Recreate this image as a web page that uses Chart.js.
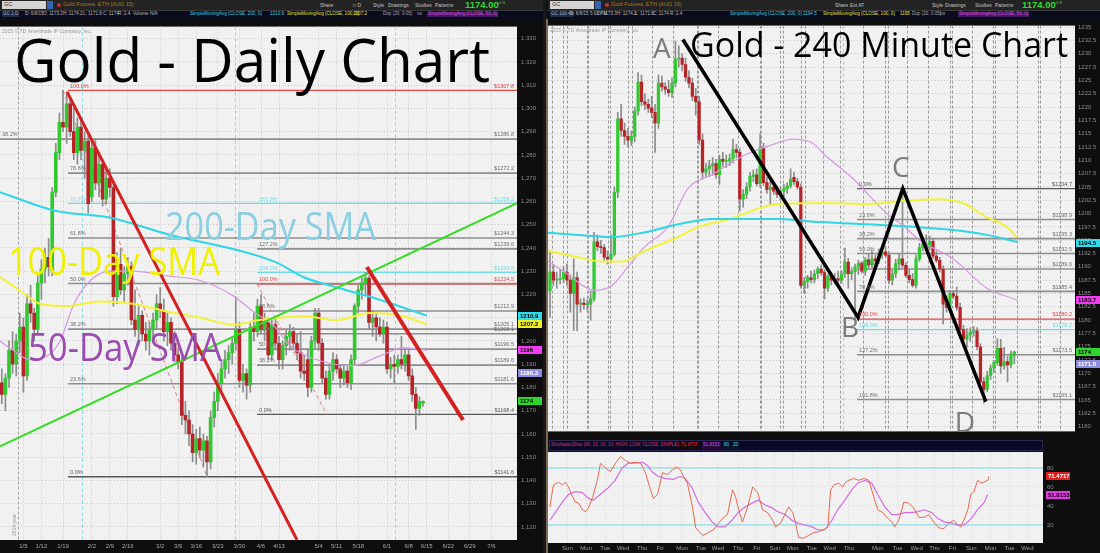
<!DOCTYPE html>
<html>
<head>
<meta charset="utf-8">
<title>Gold - Daily and 240 Minute Charts</title>
<script src="https://cdn.jsdelivr.net/npm/chart.js@4.4.1/dist/chart.umd.min.js"></script>
<style>
  html, body { margin: 0; padding: 0; background: #121212; }
  body { position: relative; width: 1100px; height: 553px; overflow: hidden; font-family: "Liberation Sans", Arial, sans-serif; }
  canvas { position: absolute; }
  .t { position: absolute; white-space: nowrap; line-height: 1; }
</style>
</head>
<body>
<canvas id="daily" width="543" height="534" style="left:0;top:19px"></canvas>
<canvas id="h4" width="552" height="419" style="left:548px;top:19px"></canvas>
<canvas id="stoch" width="552" height="115" style="left:548px;top:438px"></canvas>
<script>
'use strict';

/* ---- Daily chart data (bar index 0 = late Dec 2014, last = 6/8/15) ---- */
var dOpen = [1182,1177,1184,1196,1190,1200,1206,1185,1216,1212,1205,1225,1231,1236,1230,1264,1281,1294,1292,1302,
  1290,1281,1292,1282,1286,1262,1283,1268,1276,1261,1270,1266,1219,1233,1222,1229,1232,1209,1205,1211,
  1203,1200,1205,1209,1216,1213,1204,1208,1199,1194,1191,1168,1166,1160,1152,1158,1153,1157,1148,1167,
  1174,1182,1188,1192,1195,1199,1205,1183,1186,1181,1206,1204,1215,1205,1208,1194,1207,1199,1192,1198,
  1202,1204,1199,1195,1187,1192,1180,1200,1212,1199,1184,1177,1187,1192,1188,1184,1187,1182,1192,1215,
  1222,1225,1227,1208,1210,1206,1203,1206,1188,1190,1189,1192,1190,1194,1185,1177,1171,1173.2];
var dHigh = [1188,1186,1200,1204,1203,1212,1210,1220,1224,1214,1228,1235,1240,1244,1266,1285,1298,1307.8,1306,1305,
  1300,1296,1296,1290,1290,1286,1287,1280,1278,1274,1274,1268,1238,1240,1232,1236,1234,1222,1215,1213,
  1208,1208,1212,1220,1223,1218,1212,1210,1204,1197,1193,1174,1170,1164,1162,1163,1160,1159,1170,1178,
  1186,1192,1196,1198,1202,1219,1208,1190,1188,1208,1212,1218,1220,1212,1210,1209,1210,1202,1200,1205,
  1207,1206,1203,1204,1194,1196,1202,1214,1214,1201,1187,1190,1195,1194,1190,1190,1189,1194,1216,1224,
  1228,1229.5,1228,1213,1212,1210,1209,1208,1193,1194,1194,1202,1196,1196,1188,1180,1176,1174.2];
var dLow = [1173,1170,1180,1186,1185,1195,1178,1183,1208,1200,1203,1218,1225,1228,1228,1262,1278,1290,1285,1288,
  1278,1276,1278,1270,1255,1260,1265,1262,1258,1259,1262,1215,1216,1220,1217,1224,1207,1202,1198,1200,
  1196,1194,1200,1205,1210,1200,1198,1196,1191,1188,1164,1160,1155,1148,1147,1150,1146,1141.6,1145,1163,
  1170,1178,1184,1186,1190,1196,1180,1178,1175,1178,1200,1202,1203,1200,1192,1192,1196,1188,1188,1194,
  1196,1196,1192,1184,1183,1176,1178,1197,1196,1182,1175,1175,1183,1186,1180,1181,1180,1179,1190,1212,
  1218,1220,1205,1202,1200,1202,1199,1186,1184,1182,1186,1188,1187,1183,1174,1162,1168,1171.8];
var dClose = [1177,1184,1196,1190,1200,1206,1185,1216,1212,1205,1225,1231,1236,1232,1264,1281,1294,1292,1302,1290,
  1281,1292,1282,1286,1259,1283,1268,1276,1261,1270,1266,1219,1233,1222,1229,1232,1209,1205,1211,1203,
  1200,1205,1209,1216,1213,1204,1208,1199,1194,1191,1168,1166,1160,1152,1158,1153,1157,1148,1167,1174,
  1182,1188,1192,1195,1199,1205,1183,1186,1181,1206,1204,1215,1205,1208,1194,1207,1199,1192,1198,1202,
  1204,1199,1195,1187,1186,1180,1200,1212,1199,1184,1177,1187,1192,1188,1184,1187,1182,1192,1215,1222,
  1225,1227,1208,1210,1206,1203,1206,1188,1190,1189,1192,1190,1194,1185,1177,1171,1174,1174];

var dTickIdx = [6,11,17,25,30,35,44,49,54,60,66,72,77,88,93,99,107,113,118,124,130,136];
var dTickLbl = ['1/5','1/12','1/19','2/2','2/9','2/16','3/2','3/9','3/16','3/23','3/30','4/6','4/13','5/4','5/11','5/18','6/1','6/8','6/15','6/22','6/29','7/6'];
var dMonthMarks = [22.3, 64.8, 109.2];
var dYearMark = [4.5];

var d200X = [-0.5, 14.8, 30.1, 45.9, 75.9, 83.7, 93.1, 102.3, 118.1];
var d200Y = [1264, 1256, 1253, 1246, 1234, 1227.5, 1223, 1219, 1210.9];
var d100X = [-0.5, 5.1, 10.6, 18.1, 27.3, 36.4, 45.9, 55.1, 64.2, 71.7, 83.7, 93.1, 102.3, 111.4, 118.1];
var d100Y = [1227.5, 1221.6, 1216, 1215, 1217, 1216, 1212.7, 1210, 1207, 1209, 1210.6, 1209, 1212, 1210.6, 1207.2];
var d50X = [-0.5, 3.1, 7.8, 12.6, 16.2, 19.8, 23.7, 30.1, 36.4, 45.9, 55.1, 64.2, 69.8, 75.9, 80, 88.4, 97.6, 105, 111.4, 118.1];
var d50Y = [1200, 1196, 1192, 1193.6, 1200, 1215, 1224.6, 1230, 1230, 1228, 1226, 1219.5, 1212.7, 1206, 1198, 1191.5, 1189.4, 1193.6, 1197, 1196];

var dGreenX = [-0.5, 143.1], dGreenY = [1154.7, 1259.3];
var dRed1X = [18.1, 82], dRed1Y = [1307.2, 1114.4];
var dRed2X = [101.4, 128.1], dRed2Y = [1231.8, 1166];
var dLink1X = [17, 57], dLink1Y = [1307.8, 1141.6];
var dLink2X = [70.9, 90.3], dLink2Y = [1224.5, 1168.4];

var dFibPrice = [1307.8, 1286.8, 1272.2, 1259.2, 1259.2, 1244.3, 1239.6, 1229.5, 1224.7, 1224.5, 1212.9, 1205.1, 1203.1, 1196.5, 1189.6, 1181.6, 1168.4, 1141.6];
var dFibFrom = [18.4, -0.5, 18.4, 18.4, 70.9, 18.4, 70.9, 70.9, 18.4, 70.9, 70.9, 18.4, 70.9, 70.9, 70.9, 18.4, 70.9, 18.4];
var dFibPct = ['100.0%', '38.2%', '78.6%', '70.7%', '161.8%', '61.8%', '127.2%', '108.0%', '50.0%', '100.0%', '78.6%', '38.2%', '61.8%', '50.0%', '38.2%', '23.6%', '0.0%', '0.0%'];
var dFibTag = ['$1307.8', '$1286.8', '$1272.2', '', '$1259.2', '$1244.3', '$1239.6', '$1229.5', '', '$1224.5', '$1212.9', '$1205.1', '$1203.1', '$1196.5', '$1189.6', '$1181.6', '$1168.4', '$1141.6'];
var dFibKind = ['top', 'level', 'level', 'ext', 'ext', 'level', 'level', 'ext', 'level', 'top', 'level', 'level', 'level', 'level', 'level', 'level', 'base', 'base'];

var dTagVal = [1210.9, 1207.2, 1196, 1186.3, 1174];
var dTagTxt = ['1210.9', '1207.2', '1196', '1186.3', '1174'];

/* ---- 240 minute chart data ---- */
var hOpen = [1185.5,1189,1187.5,1187.6,1187.8,1189,1187.5,1185,1188,1183,1183.2,1182.9,1183,1184,1194.7,1193.8,1193.6,1191.8,1191.5,1192.4,
  1204,1217.8,1215.6,1214.5,1213.8,1214.5,1219.3,1224.7,1221,1220.5,1219.8,1219,1217,1224.5,1223.8,1223.3,1222.7,1224.5,1229,1229.2,
  1228,1225.6,1224.5,1222,1221,1213.8,1207.8,1208.4,1209,1209.4,1207.3,1210.2,1209.8,1209.9,1210.3,1212,1211.5,1202.7,1203.6,1205,
  1207,1207.3,1205.6,1212.4,1205.8,1204.5,1205,1204.2,1203.6,1204.2,1204.7,1205.2,1206.8,1206,1205,1186.5,1187.2,1188,1187.6,1188.7,
  1189.6,1188.9,1186,1188.2,1187.5,1187.8,1187.5,1188.7,1190.9,1188.7,1189.1,1190,1190.6,1189.2,1191.3,1190.4,1191.5,1191.1,1192.4,1192.8,
  1192.2,1187.5,1188.7,1190.6,1191.5,1190.3,1188.4,1187.6,1186.5,1191.5,1193.6,1194.3,1193.7,1194.8,1192,1191.2,1189.6,1183,1182.4,1185,
  1184.5,1182.4,1178.2,1176.4,1177.2,1177.8,1178,1175,1168.4,1167,1169.6,1171,1172,1174.7,1171.4,1172.2,1171.6,1173.3];
var hHigh = [1193,1190.5,1189,1189.5,1190,1190.5,1188.5,1191.5,1189,1184,1184.2,1183.8,1185.5,1196.5,1196,1195,1194.2,1193,1196,1205,
  1219,1220.5,1217,1216,1215.5,1220,1226.5,1226,1222.5,1221.5,1222,1220.5,1226,1225.8,1224.6,1225,1225.5,1232.4,1231.5,1230,
  1229.2,1226.8,1225.4,1223.5,1222,1215,1209.5,1210,1210.5,1210.2,1211,1211.5,1211,1211.2,1214,1213,1212.2,1204.5,1205.8,1207.8,
  1208.2,1208.4,1215,1213.2,1206.8,1206,1205.8,1205.2,1205,1205.5,1205.8,1208.4,1207.8,1206.6,1205.6,1188,1188.4,1189.2,1189.4,1190,
  1190.4,1189.5,1188.6,1189,1188.8,1189.2,1189.3,1193.5,1191.6,1189.8,1190.5,1191.2,1191,1191.8,1192.5,1193,1192.2,1193.4,1193.6,1193.8,
  1192.8,1189.4,1191.4,1192.4,1204.7,1190.8,1189.6,1188.8,1192.2,1194.4,1194.8,1196,1195.8,1195.4,1193,1191.8,1190.2,1184.6,1185.6,1185.6,
  1186.2,1183.2,1179,1178.4,1178.6,1178.8,1178.6,1175.6,1169.2,1170.4,1171.6,1172.4,1176.5,1176.4,1174.9,1173.2,1174.2,1174.2];
var hLow = [1180.5,1186.5,1186,1186.8,1187,1186.5,1181.5,1178,1178,1181.5,1182,1181.8,1180,1183.5,1193,1192.5,1191,1190.5,1190.8,1192,
  1203,1214.5,1213,1212.5,1212.8,1213.5,1218.5,1220.2,1219.5,1219,1218,1211.5,1216,1223,1222.4,1222,1221.8,1223.8,1227.5,1226.8,
  1224.8,1223.6,1221.2,1218.5,1213,1206.5,1206.8,1207,1207.2,1206.6,1205.5,1208.8,1208.6,1209,1209.5,1210.5,1200.5,1201.2,1202.8,1204.2,
  1206,1205.2,1205,1205.3,1203.8,1201.5,1203.6,1203,1202.5,1203.2,1203.8,1204.8,1205.5,1204.6,1186,1185,1186,1187,1187,1187.8,
  1188.4,1184,1185.4,1186.6,1186.8,1186.4,1186.9,1188,1186,1187.6,1180.2,1188.6,1188.8,1188.4,1189.5,1189.8,1190,1190.6,1191.6,1191.8,
  1186.8,1186.6,1188,1189.4,1189.8,1188,1187,1186.2,1186,1191,1193,1193,1193.2,1191.6,1190.8,1189,1179.3,1181.5,1182,1184,
  1181.8,1177.6,1175.5,1174.8,1176,1177,1174.4,1168,1164.4,1166.5,1168.8,1170.2,1171.5,1170,1170.8,1168.4,1171,1171.8];
var hClose = [1189,1187.5,1187.6,1187.8,1189,1187.5,1185,1188,1183,1183.2,1182.9,1183,1184,1194.7,1193.8,1193.6,1191.8,1191.5,1192.4,1204,
  1217.8,1215.6,1214.5,1213.8,1214.5,1219.3,1224.7,1221,1220.5,1219.8,1219,1217,1224.5,1223.8,1223.3,1222.7,1224.5,1229,1229.2,1228,
  1225.6,1224.5,1222,1221,1213.8,1207.8,1208.4,1209,1209.4,1207.3,1210.2,1209.8,1209.9,1210.3,1212,1211.5,1202.7,1203.6,1205,1207,
  1207.3,1205.6,1212.4,1205.8,1204.5,1205,1204.2,1203.6,1204.2,1204.7,1205.2,1206.5,1206,1205,1186.5,1187.2,1188,1187.6,1188.7,1189.6,
  1188.9,1186,1188.2,1187.5,1187.8,1187.5,1188.7,1190.9,1188.7,1189.1,1190,1190.6,1189.2,1191.3,1190.4,1191.5,1191.1,1192.4,1192.8,1192.2,
  1187.5,1188.7,1190.6,1191.5,1190.3,1188.4,1187.6,1186.5,1191.5,1193.6,1194.3,1193.7,1194.8,1192,1191.2,1189.6,1183,1182.4,1185,1184.5,
  1182.4,1178.2,1176.4,1177.2,1177.8,1178,1175,1168.4,1167,1169.6,1171,1172,1174.7,1171.4,1172.2,1171.6,1173.6,1174];

var hDayLines = [0.5,3.9,4.9,10.8,11.3,17.2,17.7,23.1,24.1,30,36.4,43.3,43.7,49.6,55.5,61.9,62.4,67.8,68.8,74.2,75.2,
  80.6,85.5,92.4,98.8,99.8,105.2,111.6,118,118.5,124.4,130.8,131.3,137.7,144,144.5,150.4];
var hCyanMark = [86.5];

var h200X = [-0.6, 8.3, 18.3, 28, 37.8, 47.8, 57.5, 67.3, 79.6, 99.4, 118.9, 128.9, 137.8];
var h200Y = [1196.4, 1196, 1195.6, 1196.5, 1198, 1199, 1199, 1199, 1198.4, 1197.8, 1196.9, 1196, 1194.7];
var h100X = [-0.6, 8.3, 15.3, 21.2, 28, 37.8, 43.7, 52.5, 67.3, 81.1, 94.4, 104.1, 114.2, 121.8, 128.9, 134.8, 137.8];
var h100Y = [1193, 1191.8, 1191, 1191, 1193, 1195.6, 1197.5, 1198.9, 1201.8, 1202, 1201.8, 1202.4, 1202.7, 1202, 1199.3, 1197.5, 1195.5];
var h50X = [-0.6, 4.4, 13.3, 18.3, 23, 28, 34.8, 40.7, 47.8, 57.5, 67.3, 71.4, 77.3, 81.1, 89.5, 99.4, 104.1, 109.1, 118.9, 128.9, 137.8];
var h50Y = [1191, 1189, 1185.6, 1186.5, 1190, 1193.8, 1197.5, 1204.7, 1207.3, 1211, 1213.3, 1214, 1213.3, 1211, 1206.5, 1200, 1197.8, 1195, 1191.5, 1186, 1183.8];

var hAbcdX = [39.2, 90.9, 104.1, 128.6];
var hAbcdY = [1232.7, 1180.5, 1204.7, 1164.7];
var hAbcdLbl = ['A', 'B', 'C', 'D'];

var hFibPrice = [1204.7, 1198.9, 1195.3, 1192.5, 1189.6, 1185.4, 1180.2, 1178.2, 1173.5, 1165.1];
var hFibFrom = [90.6, 90.6, 90.6, 90.6, 90.6, 90.6, 90.6, 90.6, 90.6, 90.6];
var hFibPct = ['0.0%', '23.6%', '38.2%', '50.0%', '61.8%', '78.6%', '100.0%', '108.0%', '127.2%', '161.8%'];
var hFibTag = ['$1204.7', '$1198.9', '$1195.3', '$1192.5', '$1189.6', '$1185.4', '$1180.2', '$1178.2', '$1173.5', '$1165.1'];
var hFibKind = ['base', 'level', 'level', 'level', 'level', 'level', 'top', 'ext', 'level', 'level'];

var hTagVal = [1194.5, 1183.7, 1174, 1171.8];
var hTagTxt = ['1194.5', '1183.7', '1174', '1171.8'];

/* ---- Stochastic (slow) ---- */
var stochKIdx = [0,1.1,2.7,3.9,4.9,5.8,7.1,8.0,9.0,10.2,11.2,12.1,13.4,14.9,15.9,17.5,19.0,20.6,22.2,23.7,
  25.3,26.9,28.5,30.0,31.6,32.5,33.8,35.4,36.9,38.5,39.8,41.0,42.0,43.2,44.8,45.8,48.0,49.8,51.4,53.0,
  54.6,55.8,57.4,58.3,59.3,60.5,62.1,63.7,65.3,66.8,68.4,70.0,70.9,72.5,74.1,75.0,76.3,77.2,78.1,79.7,
  81.3,82.9,84.4,86.0,87.3,88.2,89.2,90.7,92.0,92.9,93.9,95.4,97.0,98.6,100.2,101.7,103.0,104.6,106.1,107.7,
  108.3,109.6,111.2,112.7,114.3,115.9,117.5,119.0,120.6,122.2,123.7,125.3,126.9,128.1,129.1,130.0,131.3,132.2,133.2,134.4,
  135.4,136.3,137.6,137.9];
var stochK = [39,62,65,62,65,60,50,44,43,36,34,38,49,67,85,80,76,85,92,88,
  85,86,85,75,57,48,52,75,73,78,81,78,71,64,39,17,9,12,15,22,
  28,31,57,50,36,23,39,60,54,36,33,25,18,22,33,39,33,22,7,6,
  9,12,13,15,18,57,62,64,60,65,67,69,67,69,67,50,36,33,27,22,
  18,25,44,43,38,28,28,31,23,17,16,22,25,20,18,25,36,52,55,67,
  64,65,67,71];
var stochDIdx = [0,1.7,3.9,5.8,8.0,10.2,12.1,13.6,15.8,18.3,20.5,22.7,24.6,26.8,29.0,30.6,32.1,34.0,36.2,38.7,
  40.9,42.5,44.7,46.6,48.8,51.0,52.8,55.0,57.2,59.1,61.3,63.5,65.4,67.6,69.8,71.6,73.9,76.0,77.9,80.1,
  82.3,84.2,86.4,88.6,90.4,92.6,94.8,96.7,98.9,101.1,103.0,105.2,107.4,109.2,111.4,113.6,115.5,117.7,119.9,121.8,
  124.0,126.2,128.0,130.2,132.4,134.3,136.5,137.5];
var stochD = [25,33,44,52,55,54,48,46,52,59,67,80,85,85,86,83,76,71,69,68,
  71,69,59,44,33,23,18,18,25,33,39,43,46,41,38,34,31,25,22,20,
  18,15,15,25,36,46,57,64,67,64,52,39,31,31,33,33,34,36,33,27,
  23,22,20,20,27,36,44,52];
var stochBands = [80, 20];
var stochDayIdx = [5.5,11.4,17.4,23,29,34.6,41.5,47.5,52.8,59.1,65,70.7,76.3,82.3,87.9,93.9,103,109.2,115.2,120.8,126.5,132.4,138.4,144.4,150];
var stochDayLbl = ['Sun','Mon','Tue','Wed','Thu','Fri','Mon','Tue','Wed','Thu','Fri','Sun','Mon','Tue','Wed','Thu','Mon','Tue','Wed','Thu','Fri','Sun','Mon','Tue','Wed'];
var stochTagVal = [71.4717, 51.8153];
var stochTagTxt = ['71.4717', '51.8153'];

/* ---- helpers ---- */
var GREEN = '#32c832', RED = '#b72428', WICK = '#8c8c8c';
var FIB = { top: '#e04848', level: '#8e8e8e', ext: '#70dbe6', base: '#575757' };
var SMALL = '"Liberation Sans", Arial, sans-serif';

function pts(xs, ys) {
    return xs.map(function (x, i) { return { x: x, y: ys[i] }; });
}

function line(data, color, width, order, extra) {
    return Object.assign({ type: 'line', data: data, borderColor: color, borderWidth: width,
        pointRadius: 0, fill: false, order: order }, extra || {});
}

function candleSets(op, hi, lo, cl, bodyW) {
    return [
        { type: 'bar', data: op.map(function (o, i) { return { x: i, y: [o, cl[i]] }; }),
          backgroundColor: op.map(function (o, i) { return cl[i] >= o ? GREEN : RED; }),
          barThickness: bodyW, minBarLength: 1, grouped: false, order: 5 },
        { type: 'bar', data: hi.map(function (h, i) { return { x: i, y: [lo[i], h] }; }),
          backgroundColor: WICK, barThickness: 1, grouped: false, order: 6 }
    ];
}

function fibSets(price, from, kind, xEnd) {
    return price.map(function (p, i) {
        return line(pts([from[i], xEnd], [p, p]), FIB[kind[i]], kind[i] === 'level' ? 1.6 : 1.3, 8);
    });
}

function fibLabels(chart, price, from, pct, tag, kind) {
    var ctx = chart.ctx, a = chart.chartArea, x = chart.scales.x, y = chart.scales.y;
    ctx.save();
    ctx.font = '5.5px ' + SMALL;
    ctx.textBaseline = 'bottom';
    price.forEach(function (p, i) {
        var py = y.getPixelForValue(p) - 1.5;
        ctx.fillStyle = kind[i] === 'level' ? '#6e6e6e' : FIB[kind[i]];
        ctx.textAlign = 'left';
        ctx.fillText(pct[i], Math.max(a.left + 2, x.getPixelForValue(from[i]) + 2), py);
        if (tag[i]) {
            ctx.textAlign = 'right';
            ctx.fillText(tag[i], a.right - 3, py);
        }
    });
    ctx.restore();
}

// big annotation text, squeezed to the width it takes in the screenshot
function fitText(ctx, text, left, right, baseline, size, color) {
    ctx.save();
    ctx.font = size + 'px "Open Sans", "Noto Sans", sans-serif';
    ctx.textAlign = 'left';
    ctx.textBaseline = 'alphabetic';
    var w = ctx.measureText(text).width;
    ctx.translate(left, baseline);
    ctx.scale((right - left) / w, 1);
    ctx.fillStyle = color;
    ctx.fillText(text, 0, 0);
    ctx.restore();
}

function axisTags(chart, vals, texts, colors, inks, x0, w) {
    var ctx = chart.ctx, y = chart.scales.y;
    ctx.save();
    ctx.font = 'bold 6px ' + SMALL;
    ctx.textBaseline = 'middle';
    ctx.textAlign = 'left';
    vals.forEach(function (v, i) {
        var py = Math.round(y.getPixelForValue(v));
        ctx.fillStyle = colors[i];
        ctx.fillRect(x0, py - 4, w, 8);
        ctx.fillStyle = inks[i];
        ctx.fillText(texts[i], x0 + 2, py + 0.5);
    });
    ctx.restore();
}

function vLines(chart, list, color, dash) {
    var ctx = chart.ctx, a = chart.chartArea, x = chart.scales.x;
    ctx.save();
    ctx.strokeStyle = color;
    ctx.lineWidth = 1;
    ctx.setLineDash(dash);
    list.forEach(function (v) {
        var px = Math.round(x.getPixelForValue(v)) + 0.5;
        ctx.beginPath();
        ctx.moveTo(px, a.top);
        ctx.lineTo(px, a.bottom);
        ctx.stroke();
    });
    ctx.restore();
}

function deco(hooks) {
    return {
        id: 'deco',
        beforeDraw: function (chart) {
            var ctx = chart.ctx, a = chart.chartArea;
            ctx.save();
            ctx.fillStyle = '#0e0e0e';
            ctx.fillRect(0, 0, chart.width, chart.height);
            ctx.fillStyle = '#f1f1f1';
            ctx.fillRect(a.left, a.top, a.right - a.left, a.bottom - a.top);
            ctx.restore();
        },
        beforeDatasetsDraw: function (chart) { if (hooks.under) hooks.under(chart); },
        afterDatasetsDraw: function (chart) { if (hooks.over) hooks.over(chart); },
        afterDraw: function (chart) { if (hooks.last) hooks.last(chart); }
    };
}

function copyright(chart) {
    var ctx = chart.ctx, a = chart.chartArea;
    ctx.save();
    ctx.font = '5px ' + SMALL;
    ctx.fillStyle = '#9a9a9a';
    ctx.textBaseline = 'top';
    ctx.fillText('2015 \u00a9 TD Ameritrade IP Company, Inc.', a.left + 2, a.top + 3);
    ctx.restore();
}

var tickFont = { size: 6, family: SMALL };
var dottedGrid = { color: '#c9c9c9', drawTicks: false, offset: false };
var dottedBorder = { display: false, dash: [1, 2] };

/* ---- Daily chart ---- */
var dX0 = -0.5, dX1 = 143.1;
new Chart(document.getElementById('daily'), {
    type: 'bar',
    data: {
        datasets: [
            line(pts(dRed2X, dRed2Y), '#d42020', 4, 0),
            line(pts(dRed1X, dRed1Y), '#d42222', 3, 0),
            line(pts(dGreenX, dGreenY), '#33dd22', 2, 0),
            line(pts(d200X, d200Y), '#2ed6e6', 2, 2, { cubicInterpolationMode: 'monotone' }),
            line(pts(d100X, d100Y), '#f2f23a', 2, 2, { cubicInterpolationMode: 'monotone' }),
            line(pts(d50X, d50Y), '#d49ae0', 1.2, 2, { cubicInterpolationMode: 'monotone' }),
            line(pts(dLink1X, dLink1Y), '#e08080', 1, 7, { borderDash: [4, 3] }),
            line(pts(dLink2X, dLink2Y), '#e08080', 1, 7, { borderDash: [4, 3] })
        ].concat(candleSets(dOpen, dHigh, dLow, dClose, 3), fibSets(dFibPrice, dFibFrom, dFibKind, dX1))
    },
    options: {
        responsive: false,
        animation: false,
        layout: { padding: 0, autoPadding: false },
        plugins: { legend: { display: false }, tooltip: { enabled: false } },
        scales: {
            x: {
                type: 'linear', min: dX0, max: dX1, offset: false,
                afterBuildTicks: function (s) { s.ticks = dTickIdx.map(function (v) { return { value: v }; }); },
                afterFit: function (s) { s.height = 13; },
                ticks: { callback: function (v, i) { return dTickLbl[i]; }, color: '#a9a9a9', font: tickFont,
                         maxRotation: 0, autoSkip: false, padding: 3 },
                grid: dottedGrid, border: dottedBorder
            },
            y: {
                position: 'right', min: 1114.4, max: 1335.2,
                afterBuildTicks: function (s) { s.ticks = s.ticks.filter(function (t) { return t.value > s.min && t.value < s.max; }); },
                afterFit: function (s) { s.width = 26; },
                ticks: { stepSize: 10, includeBounds: false, color: '#8c8c8c', font: tickFont, padding: 4 },
                grid: dottedGrid, border: dottedBorder
            }
        }
    },
    plugins: [deco({
        under: function (chart) {
            vLines(chart, dMonthMarks, '#7fd8e6', [3, 3]);
            vLines(chart, dYearMark, '#a0a0a0', [3, 2]);
        },
        over: function (chart) {
            var ctx = chart.ctx, a = chart.chartArea, x = chart.scales.x;
            fibLabels(chart, dFibPrice, dFibFrom, dFibPct, dFibTag, dFibKind);
            copyright(chart);
            ctx.save();
            ctx.font = '5px ' + SMALL;
            ctx.fillStyle = '#9a9a9a';
            ctx.translate(x.getPixelForValue(dYearMark[0]) - 2, a.bottom - 4);
            ctx.rotate(-Math.PI / 2);
            ctx.fillText('2014 year', 0, 0);
            ctx.restore();
            fitText(ctx, 'Gold - Daily Chart', 14, 490, 63, 60, '#000000');
            fitText(ctx, '200-Day SMA', 165, 376, 221, 38, '#8ccfe1');
            fitText(ctx, '100-Day SMA', 8, 220, 256, 38, '#f0f000');
            fitText(ctx, '50-Day SMA', 28, 222, 342, 38, '#9b4caf');
        },
        last: function (chart) {
            axisTags(chart, dTagVal, dTagTxt,
                ['#33dcea', '#f0f02a', '#f23cf2', '#8f8fe2', '#2fd62f'],
                ['#000', '#000', '#000', '#fff', '#000'], chart.chartArea.right + 1, 24);
        }
    })]
});

/* ---- 240 minute chart ---- */
var hX0 = -0.59, hX1 = 154.9;
new Chart(document.getElementById('h4'), {
    type: 'bar',
    data: {
        datasets: [
            line(pts(hAbcdX, hAbcdY), '#000000', 3.5, 0),
            line(pts(h200X, h200Y), '#2ed6e6', 2, 2, { cubicInterpolationMode: 'monotone' }),
            line(pts(h100X, h100Y), '#f2f23a', 2, 2, { cubicInterpolationMode: 'monotone' }),
            line(pts(h50X, h50Y), '#d49ae0', 1.2, 2, { cubicInterpolationMode: 'monotone' })
        ].concat(candleSets(hOpen, hHigh, hLow, hClose, 2.6), fibSets(hFibPrice, hFibFrom, hFibKind, hX1))
    },
    options: {
        responsive: false,
        animation: false,
        layout: { padding: 0, autoPadding: false },
        plugins: { legend: { display: false }, tooltip: { enabled: false } },
        scales: {
            x: { type: 'linear', min: hX0, max: hX1, offset: false, display: false },
            y: {
                position: 'right', min: 1159.1, max: 1235.3,
                afterBuildTicks: function (s) { s.ticks = s.ticks.filter(function (t) { return t.value > s.min && t.value < s.max; }); },
                afterFit: function (s) { s.width = 25; },
                ticks: { stepSize: 2.5, includeBounds: false, color: '#8c8c8c', font: tickFont, padding: 3,
                         callback: function (v) { return v % 1 ? v.toFixed(1) : String(v); } },
                grid: dottedGrid, border: dottedBorder
            }
        }
    },
    plugins: [deco({
        under: function (chart) {
            vLines(chart, hDayLines, '#9a9a9a', [3, 2]);
            vLines(chart, hCyanMark, '#7fd8e6', [3, 3]);
        },
        over: function (chart) {
            var ctx = chart.ctx, x = chart.scales.x, y = chart.scales.y;
            var letterDx = [-21, -8, -2, -21], letterDy = [19, 20, -12, 30];
            fibLabels(chart, hFibPrice, hFibFrom, hFibPct, hFibTag, hFibKind);
            copyright(chart);
            ctx.save();
            ctx.font = '28px "Open Sans", sans-serif';
            ctx.fillStyle = '#7b7b7b';
            ctx.textAlign = 'center';
            ctx.textBaseline = 'alphabetic';
            hAbcdLbl.forEach(function (l, i) {
                ctx.fillText(l, x.getPixelForValue(hAbcdX[i]) + letterDx[i], y.getPixelForValue(hAbcdY[i]) + letterDy[i]);
            });
            ctx.restore();
            fitText(ctx, 'Gold - 240 Minute Chart', 142, 520, 38, 35, '#000000');
        },
        last: function (chart) {
            axisTags(chart, hTagVal, hTagTxt, ['#33dcea', '#f23cf2', '#2fd62f', '#8f8fe2'],
                ['#000', '#000', '#000', '#fff'], chart.chartArea.right + 1, 24);
        }
    })]
});

/* ---- Stochastic panel ---- */
new Chart(document.getElementById('stoch'), {
    type: 'line',
    data: {
        datasets: [
            line(pts(stochKIdx, stochK), '#e8694c', 1, 0),
            line(pts(stochDIdx, stochD), '#d36de0', 1.2, 1),
            line(pts([hX0, hX1], [stochBands[0], stochBands[0]]), '#6fe0ea', 1, 2),
            line(pts([hX0, hX1], [stochBands[1], stochBands[1]]), '#6fe0ea', 1, 2)
        ]
    },
    options: {
        responsive: false,
        animation: false,
        layout: { padding: { top: 14 }, autoPadding: false },
        plugins: { legend: { display: false }, tooltip: { enabled: false } },
        scales: {
            x: {
                type: 'linear', min: hX0, max: hX1, offset: false,
                afterBuildTicks: function (s) { s.ticks = stochDayIdx.map(function (v) { return { value: v }; }); },
                afterFit: function (s) { s.height = 10; },
                ticks: { callback: function (v, i) { return stochDayLbl[i]; }, color: '#a0a0a0', font: tickFont,
                         maxRotation: 0, autoSkip: false, padding: 2 },
                grid: { color: '#d8d8d8', drawTicks: false }, border: dottedBorder
            },
            y: {
                position: 'right', min: 1.05, max: 96.8,
                afterBuildTicks: function (s) { s.ticks = [20, 40, 60, 80].map(function (v) { return { value: v }; }); },
                afterFit: function (s) { s.width = 57; },
                ticks: { color: '#8c8c8c', font: tickFont, padding: 4 },
                grid: { color: '#d8d8d8', drawTicks: false }, border: dottedBorder
            }
        }
    },
    plugins: [deco({
        last: function (chart) {
            axisTags(chart, stochTagVal, stochTagTxt, ['#e02020', '#e03ae0'], ['#fff', '#000'],
                chart.chartArea.right + 3, 24);
        }
    })]
});

/* ---- toolbars (plain HTML) ---- */
function put(x, y, w, h, bg, text, color, size, extra) {
    var el = document.createElement('div');
    el.className = 't';
    el.style.cssText = 'left:' + x + 'px;top:' + y + 'px;' +
        (w ? 'width:' + w + 'px;height:' + h + 'px;' : '') +
        (bg ? 'background:' + bg + ';' : '') +
        'color:' + (color || '#c8c8c8') + ';font-size:' + (size || 5) + 'px;' + (extra || '');
    if (text) el.textContent = text;
    document.body.appendChild(el);
}

function toolbar(x0, w, name, buttons, price, info) {
    put(x0, 0, w, 10, '#232323');
    put(x0, 10, w, 9, '#0b0b1e', '', '', 5, 'border-top:1px solid #3a3a3a;box-sizing:border-box;');
    put(x0 + 2, 1, 44, 8, '#d4d4d4', 'GC', '#333', 5.5, 'padding:1px 2px;box-sizing:border-box;');
    put(x0 + 47, 1, 6, 8, '#3465b0');
    put(x0 + 57, 3, 4, 4, '#c83030', '', '', 5, 'border-radius:2px;');
    put(x0 + 63, 2, 0, 0, '', name, '#a8792a', 5.5);
    buttons.forEach(function (b) { put(x0 + b[0], 3, 0, 0, '', b[1], '#c4c4c4', 5); });
    put(x0 + price, 0, 0, 0, '', '1174.00', '#33d633', 9.5, 'font-weight:bold;');
    put(x0 + price + 32, 1, 0, 0, '', '+0.8', '#33d633', 4);
    info.forEach(function (it) {
        put(x0 + it[0], 12, 0, 0, it[3] || '', it[1], it[2], 4.6, it[3] ? 'padding:0 1px;' : '');
    });
}

toolbar(0, 543, 'Gold Futures, ETH (AUG 15)',
    [[320, 'Share'], [353, '\u25a1 D'], [373, 'Style'], [388, 'Drawings'], [415, 'Studies'], [435, 'Patterns']], 465,
    [[2, 'GC 1 D', '#9fb0d0', '#1f2a44'], [25, 'D: 6/8/15', '#bbb'], [43, 'O: 1173.2', '#bbb'], [63, 'H: 1174.2', '#bbb'],
     [83, 'L: 1171.8', '#bbb'], [103, 'C: 1174', '#bbb'], [118, 'R: 2.4', '#bbb'], [133, 'Volume', '#bbb'], [150, 'N/A', '#bbb'],
     [190, 'SimpleMovingAvg (CLOSE, 200, 0)', '#35d0e0'], [270, '1210.9', '#35d0e0'],
     [287, 'SimpleMovingAvg (CLOSE, 100, 0)', '#e0e030'], [353, '1207.2', '#e0e030'],
     [383, 'Dop (20, 0.05)', '#aaa'], [417, 'no', '#aaa'], [427, 'SimpleMovingAvg (CLOSE, 50, 0)', '#e040e0', '#3a1f5a']]);

toolbar(548, 552, 'Gold Futures, ETH (AUG 15)',
    [[287, 'Share'], [302, 'Ext AT'], [384, 'Style'], [397, 'Drawings'], [427, 'Studies'], [447, 'Patterns']], 474,
    [[2, 'GC 100 4h', '#9fb0d0', '#1f2a44'], [22, 'D: 6/8/15 5:00 PM', '#bbb'], [49, 'O: 1173.3', '#bbb'], [69, 'H: 1174.2', '#bbb'],
     [87, 'L: 1171.8', '#bbb'], [105, 'C: 1174', '#bbb'], [122, 'R: 2.4', '#bbb'],
     [182, 'SimpleMovingAvg (CLOSE, 200, 0)', '#35d0e0'], [255, '1194.5', '#35d0e0'],
     [275, 'SimpleMovingAvg (CLOSE, 100, 0)', '#e0e030'], [352, '1195', '#e0e030'],
     [364, 'Dop (20, 0.05)', '#aaa'], [392, 'no', '#aaa'], [410, 'SimpleMovingAvg (CLOSE, 50, 0)', '#e040e0', '#3a1f5a']]);

put(543, 0, 3, 553, '#1a1a1a');
put(546, 19, 2, 534, '#7a6a55');

put(549, 440, 494, 11, '#0a0a26', '', '', 5, 'border:1px solid #2a2a50;box-sizing:border-box;');
put(551, 443, 0, 0, '', 'StochasticSlow (80, 20, 10, 10, HIGH, LOW, CLOSE, SIMPLE)', '#d0306a', 4.6);
put(680, 442, 0, 0, '#1a0a10', '71.4717', '#ff3030', 4.6, 'padding:1px;');
put(702, 442, 0, 0, '#2a0a3a', '51.8153', '#d050e0', 4.6, 'padding:1px;');
put(723, 442, 0, 0, '#0a1a2a', '80', '#40d0e0', 4.6, 'padding:1px;');
put(732, 442, 0, 0, '#0a1a2a', '20', '#40d0e0', 4.6, 'padding:1px;');
</script>
</body>
</html>
